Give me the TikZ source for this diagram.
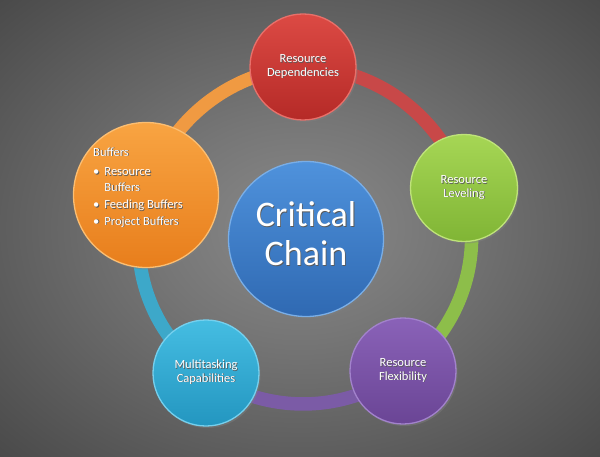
\documentclass[tikz,border=0pt]{standalone}
\usepackage{fontspec}
\setmainfont{Carlito}
\usetikzlibrary{shadows}
\pgfdeclarelayer{back}
\pgfdeclarelayer{mid}
\pgfsetlayers{back,mid,main}
\definecolor{bgA}{HTML}{8A8A8A}
\definecolor{bgB}{HTML}{767676}
\definecolor{bgC}{HTML}{383838}
\definecolor{bgD}{HTML}{0C0C0C}
\pgfdeclareradialshading{bgshade}{\pgfpoint{0bp}{0bp}}{color(0bp)=(bgA); color(12bp)=(bgB); color(45bp)=(bgC); color(71bp)=(bgD)}
\definecolor{redT}{HTML}{DC4A44}\definecolor{redB}{HTML}{B52A27}\definecolor{redR}{HTML}{E8706A}\definecolor{redArc}{HTML}{C84848}
\definecolor{grnT}{HTML}{A6D655}\definecolor{grnB}{HTML}{80B535}\definecolor{grnR}{HTML}{BFE37A}\definecolor{grnArc}{HTML}{8DBE4A}
\definecolor{purT}{HTML}{8A62B8}\definecolor{purB}{HTML}{6A4595}\definecolor{purR}{HTML}{A282CC}\definecolor{purArc}{HTML}{7B5BA6}
\definecolor{cyaT}{HTML}{45BDE2}\definecolor{cyaB}{HTML}{2396C0}\definecolor{cyaR}{HTML}{75D0EE}\definecolor{cyaArc}{HTML}{3DA8C9}
\definecolor{orgT}{HTML}{F8A442}\definecolor{orgB}{HTML}{E87E1C}\definecolor{orgR}{HTML}{FBBE72}\definecolor{orgArc}{HTML}{F09A42}
\definecolor{bluT}{HTML}{4F92DC}\definecolor{bluB}{HTML}{2F69B2}\definecolor{bluR}{HTML}{7AAEE6}
\newcommand\shd[1]{\leavevmode\rlap{\hspace{0.8pt}\raisebox{-0.8pt}{\color{black!65}#1}}#1}
\newcommand\ctab[1]{\shd{\begin{tabular}{@{}c@{}}#1\end{tabular}}}
\tikzset{
  bubble/.style={circle, inner sep=0pt, text=white, align=center,
    font=\fontsize{12.5}{14}\selectfont, line width=1.3pt,
    drop shadow={opacity=0.45, shadow xshift=1.5pt, shadow yshift=-2pt}},
  ringarc/.style={line width=13.5pt, draw=#1, bend left=36, looseness=0.94},
}
\begin{document}
\begin{tikzpicture}[x=1pt,y=1pt]
\useasboundingbox (0,0) rectangle (600,456);
\begin{pgfonlayer}{back}
  \shade[shading=bgshade] (0,0) rectangle (600,456);
\end{pgfonlayer}
\node[bubble, minimum size=106pt, top color=redT, bottom color=redB, draw=redR] (red) at (303,389) {\ctab{Resource\\[-0.5pt]Dependencies}};
\node[bubble, minimum size=107pt, top color=grnT, bottom color=grnB, draw=grnR] (green) at (464,268) {\ctab{Resource\\[-0.5pt]Leveling}};
\node[bubble, minimum size=106pt, top color=purT, bottom color=purB, draw=purR] (purple) at (403,85) {\ctab{Resource\\[-0.5pt]Flexibility}};
\node[bubble, minimum size=106pt, top color=cyaT, bottom color=cyaB, draw=cyaR] (cyan) at (206,83) {\ctab{Multitasking\\[-0.5pt]Capabilities}};
\node[bubble, minimum size=145pt, top color=orgT, bottom color=orgB, draw=orgR] (orange) at (146,261) {};
\node[bubble, minimum size=155pt, top color=bluT, bottom color=bluB, draw=bluR,
      font=\fontsize{36}{39}\selectfont] (blue) at (306,217) {\ctab{Critical\\Chain}};
\node[anchor=north west, inner sep=0pt, text=white, font=\fontsize{12.5}{15.5}\selectfont] (buf) at (93,311)
  {\shd{\begin{tabular}{@{}l@{\hspace{5pt}}l@{}}
   \multicolumn{2}{@{}l@{}}{Buffers}\\[4pt]
   \textbullet & Resource\\
               & Buffers\\[2pt]
   \textbullet & Feeding Buffers\\[1pt]
   \textbullet & Project Buffers
   \end{tabular}}};
\begin{pgfonlayer}{mid}
  \draw[ringarc=redArc] (red.center) to (green.center);
  \draw[ringarc=grnArc] (green.center) to (purple.center);
  \draw[ringarc=purArc] (purple.center) to (cyan.center);
  \draw[ringarc=cyaArc] (cyan.center) to (orange.center);
  \draw[ringarc=orgArc] (orange.center) to (red.center);
\end{pgfonlayer}
\end{tikzpicture}
\end{document}
